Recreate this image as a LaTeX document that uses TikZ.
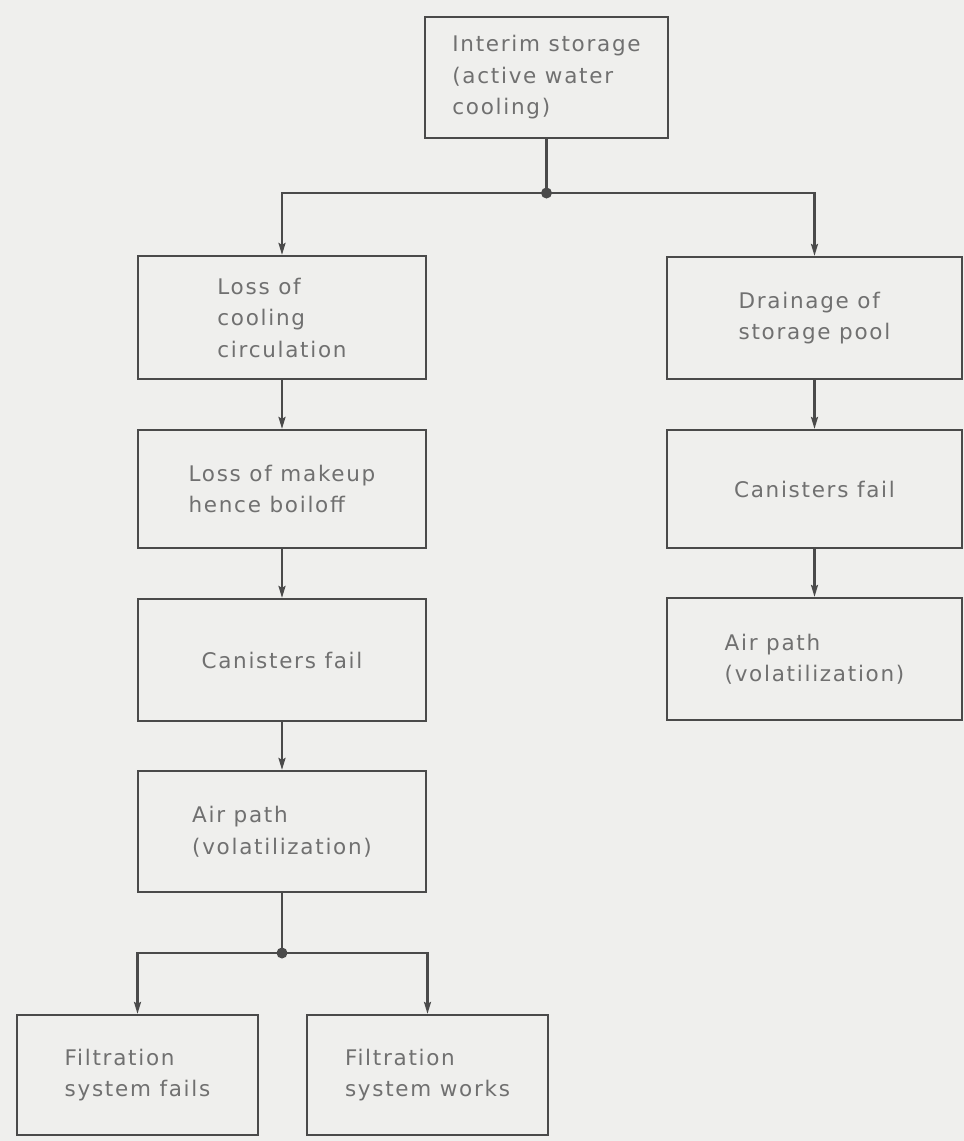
\documentclass[tikz,border=0pt]{standalone}
\usepackage{fontspec}
\setmainfont{DejaVu Sans}[LetterSpace=8]
\usetikzlibrary{arrows.meta}
\definecolor{paper}{HTML}{EFEFED}
\definecolor{ink}{HTML}{4A4A4A}
\definecolor{label}{HTML}{707070}
\begin{document}
\begin{tikzpicture}[x=1pt, y=-1pt,
  event/.style={draw=ink, line width=2.2pt, rectangle, align=left,
    text=label, font=\fontsize{21.5pt}{31.5pt}\selectfont, inner sep=0pt},
  flow/.style={draw=ink, line width=2.2pt, -{Stealth[length=12pt,width=7pt,inset=2pt]}},
  link/.style={draw=ink, line width=2.2pt},
  junction/.style={fill=ink}]
  % canvas
  \fill[paper] (0,0) rectangle (964,1141);
  \useasboundingbox (0,0) rectangle (964,1141);

  % events
  \node[event, minimum width=243pt, minimum height=121pt] (top) at (546.5,77.5)
    {Interim storage\\(active water\\cooling)};
  \node[event, minimum width=288pt, minimum height=123pt] (L1) at (282,317.5)
    {Loss of\\cooling\\circulation};
  \node[event, minimum width=295pt, minimum height=122pt] (R1) at (814.5,318)
    {Drainage of\\storage pool};
  \node[event, minimum width=288pt, minimum height=118pt] (L2) at (282,489)
    {Loss of makeup\\hence boiloff};
  \node[event, minimum width=295pt, minimum height=118pt] (R2) at (814.5,489)
    {Canisters fail};
  \node[event, minimum width=288pt, minimum height=122pt] (L3) at (282,660)
    {Canisters fail};
  \node[event, minimum width=295pt, minimum height=122pt] (R3) at (814.5,659)
    {Air path\\(volatilization)};
  \node[event, minimum width=288pt, minimum height=121pt] (L4) at (282,831.5)
    {Air path\\(volatilization)};
  \node[event, minimum width=241pt, minimum height=120pt] (B1) at (137.5,1075)
    {Filtration\\system fails};
  \node[event, minimum width=241pt, minimum height=120pt] (B2) at (427.5,1075)
    {Filtration\\system works};

  % branch points
  \coordinate (j1) at (546.5,193);
  \coordinate (j2) at (282,953);

  % connectors
  \draw[link] (top) -- (j1);
  \draw[flow] (j1) -| (L1);
  \draw[flow] (j1) -| (R1);
  \draw[flow] (L1) -- (L2);
  \draw[flow] (L2) -- (L3);
  \draw[flow] (L3) -- (L4);
  \draw[flow] (R1) -- (R2);
  \draw[flow] (R2) -- (R3);
  \draw[link] (L4) -- (j2);
  \draw[flow] (j2) -| (B1);
  \draw[flow] (j2) -| (B2);
  \fill[junction] (j1) circle (5.5pt);
  \fill[junction] (j2) circle (5.5pt);
\end{tikzpicture}
\end{document}
